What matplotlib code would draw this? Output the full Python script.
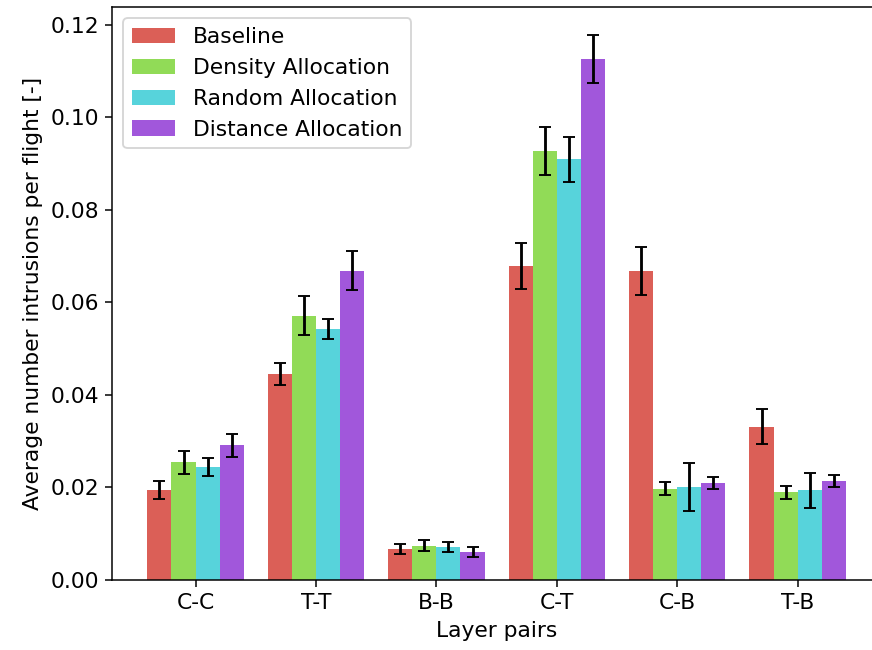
import numpy as np
import matplotlib
matplotlib.use("Agg")
import matplotlib.pyplot as plt
import seaborn as sns

# ---------------------------------------------------------------------
# Data
# ---------------------------------------------------------------------
layer_pairs = ["C-C", "T-T", "B-B", "C-T", "C-B", "T-B"]
series_names = ["Baseline", "Density Allocation", "Random Allocation", "Distance Allocation"]

baseline = [0.0194, 0.0445, 0.0067, 0.0678, 0.0668, 0.0331]
density = [0.0254, 0.0571, 0.0074, 0.0926, 0.0197, 0.0190]
random_alloc = [0.0244, 0.0542, 0.0071, 0.0909, 0.0201, 0.0194]
distance = [0.0291, 0.0668, 0.0060, 0.1126, 0.0210, 0.0214]

baseline_err = [0.0019, 0.0024, 0.0011, 0.0049, 0.0052, 0.0038]
density_err = [0.0024, 0.0042, 0.0012, 0.0052, 0.0014, 0.0014]
random_err = [0.0019, 0.0022, 0.0011, 0.0049, 0.0052, 0.0038]
distance_err = [0.0025, 0.0042, 0.0011, 0.0052, 0.0013, 0.0013]

means = [baseline, density, random_alloc, distance]
errors = [baseline_err, density_err, random_err, distance_err]

# ---------------------------------------------------------------------
# Plot
# ---------------------------------------------------------------------
plt.rcParams["font.size"] = 11.5
colors = sns.color_palette("hls", len(series_names))

fig = plt.figure(figsize=(872 / 136, 650 / 136), dpi=136)
# right edge runs slightly past the figure, as in the reference crop
ax = fig.add_axes([0.129, 0.1077, 0.881, 0.8808])

x = np.arange(len(layer_pairs))
width = 0.2

for i, (name, m, e) in enumerate(zip(series_names, means, errors)):
    offset = (i - 1.5) * width
    ax.bar(
        x + offset,
        m,
        width,
        yerr=e,
        capsize=3,
        color=colors[i],
        label=name,
    )

ax.set_xticks(x)
ax.set_xticklabels(layer_pairs)
ax.set_xlabel("Layer pairs")
ax.set_ylabel("Average number intrusions per flight [-]")
ax.legend(loc="upper left")

fig.savefig("out.png", dpi=136)
